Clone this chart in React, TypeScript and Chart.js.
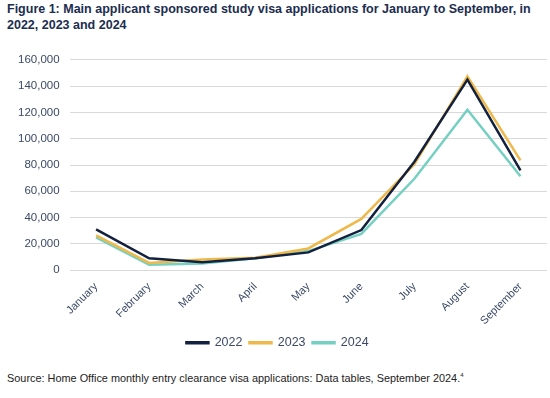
import React, { useEffect, useRef } from "react";
import { Chart, registerables } from "chart.js";

Chart.register(...registerables);

const months = ["January", "February", "March", "April", "May", "June", "July", "August", "September"];
const values2022 = [31000, 9000, 6000, 9000, 13500, 30500, 82500, 145000, 76000];
const values2023 = [26500, 5500, 8000, 9500, 16500, 39000, 80500, 147500, 83500];
const values2024 = [25000, 4000, 5000, 9000, 14500, 27500, 69500, 122000, 71500];
const yTicks = [0, 20000, 40000, 60000, 80000, 100000, 120000, 140000, 160000];

const title = "Figure 1: Main applicant sponsored study visa applications for January to September, in 2022, 2023 and 2024";
const source = "Source: Home Office monthly entry clearance visa applications: Data tables, September 2024.";

export default function App() {
  const ref = useRef<HTMLCanvasElement>(null);
  useEffect(() => {
    document.body.style.margin = "0";
    const ctx = ref.current!;
    const chart = new Chart(ctx, {
      type: "line",
      data: {
        labels: months,
        datasets: [
          { label: "2022", data: values2022, borderColor: "#13213f", backgroundColor: "#13213f", borderWidth: 2.5, pointRadius: 0, tension: 0 },
          { label: "2023", data: values2023, borderColor: "#eeb94a", backgroundColor: "#eeb94a", borderWidth: 2.5, pointRadius: 0, tension: 0 },
          { label: "2024", data: values2024, borderColor: "#74d0c1", backgroundColor: "#74d0c1", borderWidth: 2.5, pointRadius: 0, tension: 0 },
        ],
      },
      options: {
        animation: false,
        responsive: false,
        maintainAspectRatio: false,
        layout: { padding: { left: 8, right: 3, top: 6, bottom: 2 } },
        plugins: {
          legend: {
            position: "bottom",
            labels: {
              boxWidth: 22,
              boxHeight: 1,
              padding: 7,
              color: "#3b4a66",
              font: { family: "Liberation Sans, Arial, sans-serif", size: 12.5 },
            },
          },
          tooltip: { enabled: false },
        },
        scales: {
          x: {
            offset: true,
            grid: { display: false },
            border: { display: false },
            ticks: {
              color: "#3b4a66",
              maxRotation: 45,
              minRotation: 45,
              font: { family: "Liberation Sans, Arial, sans-serif", size: 11 },
              padding: 2,
            },
          },
          y: {
            min: 0,
            max: 160000,
            afterBuildTicks: (axis: any) => {
              axis.ticks = yTicks.map((v) => ({ value: v }));
            },
            grid: { color: "#d9d9d9", drawTicks: false, lineWidth: 1 },
            border: { display: false },
            ticks: {
              color: "#3b4a66",
              padding: 10,
              font: { family: "Liberation Sans, Arial, sans-serif", size: 11.5 },
              callback: (v: any) => Number(v).toLocaleString("en-US"),
            },
          },
        },
      },
    });
    return () => chart.destroy();
  }, []);

  return (
    <div style={{ position: "relative", width: 550, height: 398, background: "#fff", fontFamily: "Liberation Sans, Arial, sans-serif" }}>
      <div style={{ position: "absolute", left: 7, top: 1, width: 540, fontSize: 12.5, fontWeight: "bold", color: "#1b2d4f", lineHeight: "16px" }}>
        {title}
      </div>
      <canvas ref={ref} width={550} height={318} style={{ position: "absolute", left: 0, top: 43 }} />
      <div style={{ position: "absolute", left: 7, top: 372, fontSize: 10.9, color: "#222" }}>
        {source}
        <sup style={{ fontSize: 6 }}>4</sup>
      </div>
    </div>
  );
}
